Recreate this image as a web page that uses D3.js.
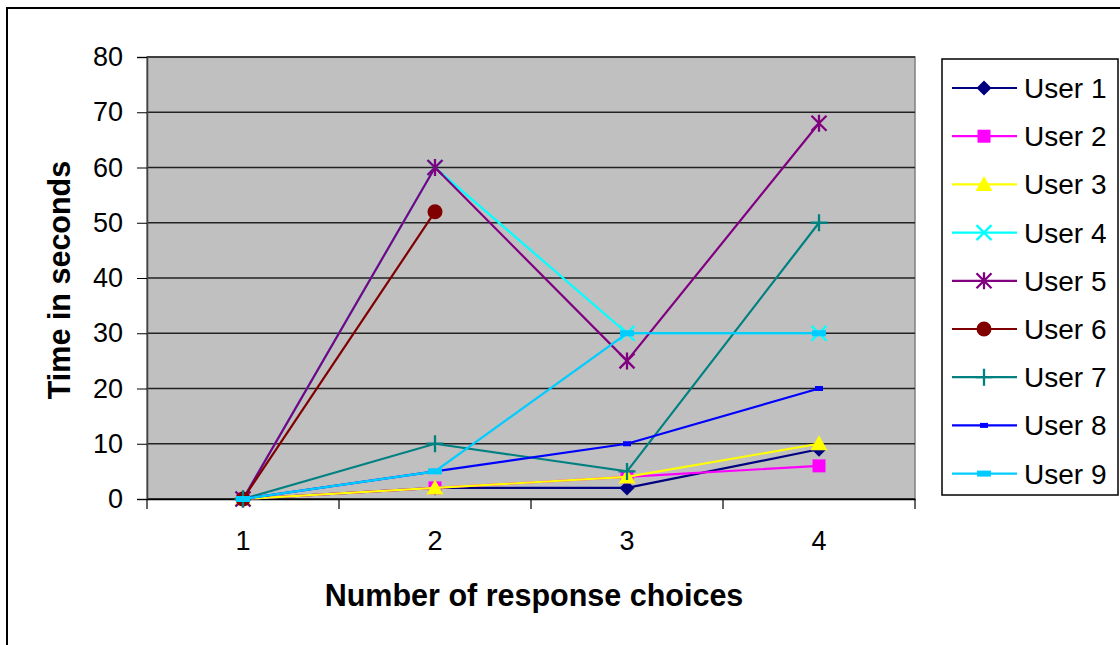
<!DOCTYPE html>
<html><head><meta charset="utf-8">
<script src="https://cdn.jsdelivr.net/npm/d3@7"></script>
<style>body{margin:0;background:#fff}svg{display:block}text{font-family:"Liberation Sans",Arial,sans-serif}</style>
</head><body>
<svg id="c" width="1120" height="645"></svg>
<script>
const categories = ["1","2","3","4"];
const yTicks = [0,10,20,30,40,50,60,70,80];
const seriesNames = ["User 1","User 2","User 3","User 4","User 5","User 6","User 7","User 8","User 9"];
const user1 = [0,2,2,9];
const user2 = [0,2,4,6];
const user3 = [0,2,4,10];
const user4 = [0,60,30,30];
const user5 = [0,60,25,68];
const user6 = [0,52];
const user7 = [0,10,5,50];
const user8 = [0,5,10,20];
const user9 = [0,5,30,30];
const seriesValues = [user1,user2,user3,user4,user5,user6,user7,user8,user9];
const colors = ["#000080","#FF00FF","#FFFF00","#00FFFF","#800080","#800000","#008080","#0000FF","#00CCFF"];
const markers = ["diamond","square","triangle","x","star","circle","plus","dash","wdash"];

const svg = d3.select("#c");
const L=147,T=57,R=915,B=499;
svg.append("rect").attr("x",7).attr("y",8).attr("width",1130).attr("height",660).attr("fill","#fff").attr("stroke","#000").attr("stroke-width",2);

const x = d3.scaleBand().domain(categories).range([L,R]);
const y = d3.scaleLinear().domain([0,80]).range([B,T]);

svg.append("rect").attr("x",L).attr("y",T).attr("width",R-L).attr("height",B-T).attr("fill","#C0C0C0").attr("stroke","#808080").attr("stroke-width",1.5);

// grid
svg.append("g").selectAll("line").data(yTicks).join("line")
  .attr("x1",L).attr("x2",R).attr("y1",d=>y(d)).attr("y2",d=>y(d))
  .attr("stroke","#222").attr("stroke-width",1.3);

// y axis
const ya = svg.append("g").attr("transform",`translate(${L},0)`).call(d3.axisLeft(y).tickValues(yTicks).tickSize(10).tickPadding(14));
ya.select(".domain").attr("stroke","#404040").attr("stroke-width",1.5);
ya.selectAll(".tick line").attr("stroke","#000");
ya.selectAll("text").attr("font-size",27).attr("fill","#000").style("font-family","Liberation Sans, Arial, sans-serif");

// x axis
const xa = svg.append("g").attr("transform",`translate(0,${B})`).call(d3.axisBottom(x).tickSize(0).tickPadding(32));
xa.select(".domain").attr("stroke","#000").attr("stroke-width",1.5);
xa.selectAll("text").attr("font-size",27).attr("fill","#000").style("font-family","Liberation Sans, Arial, sans-serif");
const bounds = [L, ...categories.map(c=>x(c)+x.bandwidth())];
svg.append("g").selectAll("line").data(bounds).join("line")
  .attr("x1",d=>d).attr("x2",d=>d).attr("y1",B).attr("y2",B+10).attr("stroke","#000").attr("stroke-width",1.2);

svg.append("text").attr("x",534).attr("y",606).attr("text-anchor","middle").attr("font-size",30.5).attr("font-weight","bold").text("Number of response choices");
svg.append("text").attr("transform","translate(70,280) rotate(-90)").attr("text-anchor","middle").attr("font-size",30.5).attr("font-weight","bold").text("Time in seconds");

function drawMarker(g, type, color){
  switch(type){
    case "diamond": g.append("path").attr("d","M0,-7.5L7.5,0L0,7.5L-7.5,0Z").attr("fill",color); break;
    case "square": g.append("rect").attr("x",-6.5).attr("y",-6.5).attr("width",13).attr("height",13).attr("fill",color); break;
    case "triangle": g.append("path").attr("d","M0,-8.5L8.5,6.5L-8.5,6.5Z").attr("fill",color); break;
    case "x": g.append("path").attr("d","M-7.5,-7.5L7.5,7.5M-7.5,7.5L7.5,-7.5").attr("stroke",color).attr("stroke-width",2.3); break;
    case "star": g.append("path").attr("d","M-7.5,-7.5L7.5,7.5M-7.5,7.5L7.5,-7.5M0,-8.5L0,8.5").attr("stroke",color).attr("stroke-width",2.3); break;
    case "circle": g.append("circle").attr("r",7.5).attr("fill",color); break;
    case "plus": g.append("path").attr("d","M-8.5,0L8.5,0M0,-8.5L0,8.5").attr("stroke",color).attr("stroke-width",2.3); break;
    case "dash": g.append("rect").attr("x",-4).attr("y",-2.5).attr("width",8).attr("height",5).attr("fill",color); break;
    case "wdash": g.append("rect").attr("x",-7).attr("y",-3).attr("width",14).attr("height",6).attr("fill",color); break;
  }
}

const line = d3.line().x((d,i)=>x(categories[i])+x.bandwidth()/2).y(d=>y(d));
seriesValues.forEach((vals,si)=>{
  const g = svg.append("g");
  g.append("path").attr("d",line(vals)).attr("fill","none").attr("stroke",colors[si]).attr("stroke-width",2.2);
  vals.forEach((v,i)=>{
    const m = g.append("g").attr("transform",`translate(${x(categories[i])+x.bandwidth()/2},${y(v)})`);
    drawMarker(m, markers[si], colors[si]);
  });
});

// legend
const lg = svg.append("g");
lg.append("rect").attr("x",942).attr("y",59).attr("width",176).attr("height",436).attr("fill","#fff").attr("stroke","#000").attr("stroke-width",1.5);
seriesNames.forEach((n,i)=>{
  const yy = 88 + i*48.2;
  lg.append("line").attr("x1",952).attr("x2",1017).attr("y1",yy).attr("y2",yy).attr("stroke",colors[i]).attr("stroke-width",2.2);
  const m = lg.append("g").attr("transform",`translate(984,${yy})`);
  drawMarker(m, markers[i], colors[i]);
  lg.append("text").attr("x",1024).attr("y",yy+10).attr("font-size",28).text(n);
});
</script>
</body></html>
